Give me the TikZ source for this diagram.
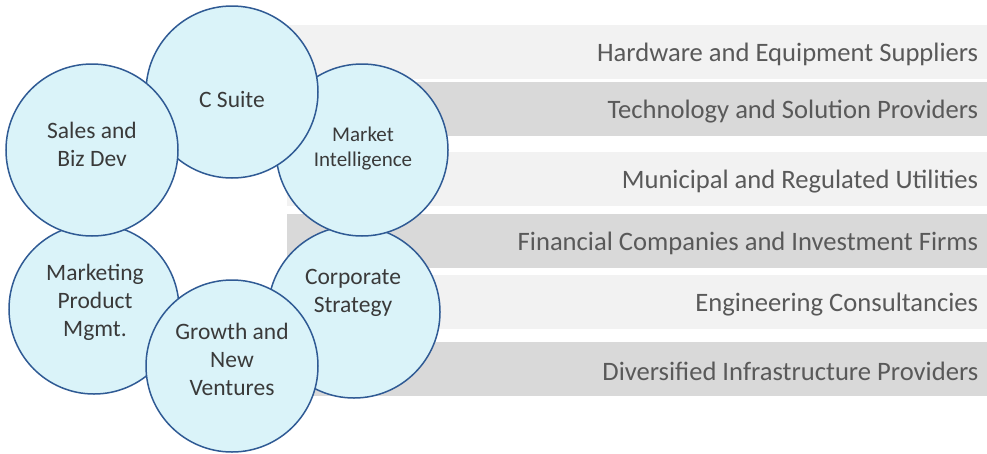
\documentclass[tikz,border=0pt]{standalone}
\usepackage{fontspec}
\setmainfont{Carlito}
\usetikzlibrary{positioning}
\definecolor{unitfill}{HTML}{DAF3F9}
\definecolor{unitline}{HTML}{2F5A94}
\definecolor{barlight}{HTML}{F2F2F2}
\definecolor{bardark}{HTML}{D9D9D9}
\definecolor{unittext}{HTML}{3A3A3A}
\definecolor{bartext}{HTML}{595959}
\begin{document}
\begin{tikzpicture}[x=1pt,y=-1pt,
    unit/.style={circle,draw=unitline,fill=unitfill,line width=1.5pt,minimum size=172pt,inner sep=0pt},
    unitlabel/.style={align=center,text=unittext,font=\fontsize{23.5}{28}\selectfont},
    segment/.style={anchor=north west,inner sep=0pt,minimum width=700pt,minimum height=54pt},
    seglabel/.style={text=bartext,font=\fontsize{26.6}{30}\selectfont,inner sep=0pt}]
    \useasboundingbox[fill=white] (0,0) rectangle (987,453);
    % draw the market segments
    \foreach \y/\c/\n/\txt in {
        25/barlight/hw/Hardware and Equipment Suppliers,
        82/bardark/tech/Technology and Solution Providers,
        152/barlight/util/Municipal and Regulated Utilities,
        214/bardark/fin/Financial Companies and Investment Firms,
        275/barlight/eng/Engineering Consultancies,
        342/bardark/infra/Diversified Infrastructure Providers} {
            \node[segment,fill=\c] (bar-\n) at (287,\y) {};
            \node[seglabel,left=9pt of bar-\n.east,yshift=-2pt] (lbl-\n) {\txt};
    }
    % circles, back to front
    \node[unit] (corp) at (354,312) {};
    \node[unit] (mi) at (362,150) {};
    \node[unit] (csuite) at (232,92) {};
    \node[unit,minimum size=170pt] (mkt) at (94,309) {};
    \node[unit] (growth) at (232,366) {};
    \node[unit] (sales) at (92,150) {};
    % names of the units
    \node[unitlabel] (corp-text) at (353,293) {Corporate\\Strategy};
    \node[unitlabel,font=\fontsize{21}{25}\selectfont] (mi-text) at (363,149) {Market\\Intelligence};
    \node[unitlabel] (csuite-text) at (232,99) {C Suite};
    \node[unitlabel] (mkt-text) at (95,302) {Marketing\\Product\\Mgmt.};
    \node[unitlabel] (growth-text) at (232,359) {Growth and\\New\\Ventures};
    \node[unitlabel] (sales-text) at (92,144) {Sales and\\Biz Dev};
\end{tikzpicture}
\end{document}
